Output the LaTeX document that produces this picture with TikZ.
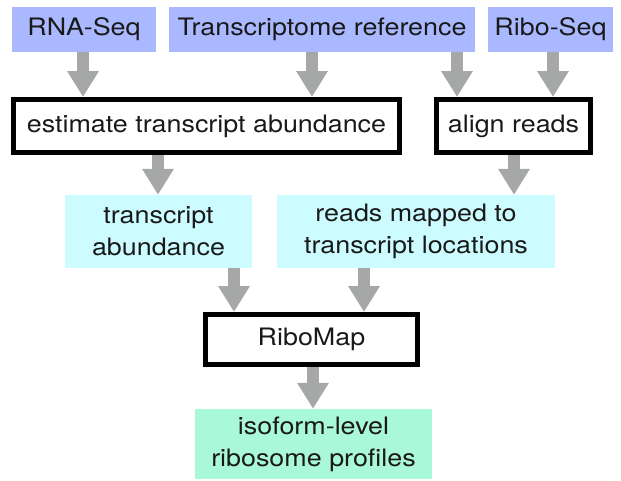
\documentclass[tikz,border=0pt]{standalone}
\usepackage{fontspec}
\setmainfont{TeX Gyre Heros}[FakeStretch=1.12]
\usetikzlibrary{arrows.meta}
\definecolor{lav}{HTML}{A9B8FF}
\definecolor{cyanb}{HTML}{CCFCFF}
\definecolor{mintb}{HTML}{A9F8DA}
\definecolor{arrg}{HTML}{A6A8A7}
\begin{document}
\begin{tikzpicture}[x=1pt,y=-1pt,
  every node/.style={font=\fontsize{24}{32}\selectfont, align=center, inner sep=0pt, text=black!90},
  srcbox/.style={fill=lav, minimum height=45pt},
  procbox/.style={draw=black, line width=5pt, fill=white, minimum height=53pt},
  databox/.style={fill=cyanb, minimum height=73pt},
  outbox/.style={fill=mintb, minimum height=70pt},
  arr/.style={draw=arrg, line width=12pt, -{Triangle[width=30pt,length=26pt]}}
]
\useasboundingbox (0,0) rectangle (621,480);
% sources
\node[srcbox, minimum width=144pt] (rna) at (84,29.5) {RNA-Seq};
\node[srcbox, minimum width=306pt] (tr) at (322,29.5) {Transcriptome reference};
\node[srcbox, minimum width=125pt] (ribo) at (550.5,29.5) {Ribo-Seq};
% processes
\node[procbox, minimum width=386pt] (est) at (206.5,126) {estimate transcript abundance};
\node[procbox, minimum width=154pt] (aln) at (513.5,126) {align reads};
% data
\node[databox, minimum width=187pt] (ta) at (158.5,231.5) {transcript\\abundance};
\node[databox, minimum width=278pt] (rm) at (416,231.5) {reads mapped to\\transcript locations};
% ribomap
\node[procbox, minimum width=212pt, minimum height=50pt] (rmap) at (311.5,339.5) {RiboMap};
% output
\node[outbox, minimum width=237pt] (iso) at (313.5,444) {isoform-level\\ribosome profiles};
% arrows
\draw[arr] (rna.south -| 83,0) -- (est.north -| 83,0);
\draw[arr] (tr.south -| 312,0) -- (est.north -| 312,0);
\draw[arr] (tr.south -| 457,0) -- (aln.north -| 457,0);
\draw[arr] (ribo.south -| 553,0) -- (aln.north -| 553,0);
\draw[arr] (est.south -| 158,0) -- (ta.north -| 158,0);
\draw[arr] (aln.south -| 514,0) -- (rm.north -| 514,0);
\draw[arr] (ta.south -| 234,0) -- (rmap.north -| 234,0);
\draw[arr] (rm.south -| 364,0) -- (rmap.north -| 364,0);
\draw[arr] (rmap.south -| 313,0) -- (iso.north -| 313,0);
\end{tikzpicture}
\end{document}
